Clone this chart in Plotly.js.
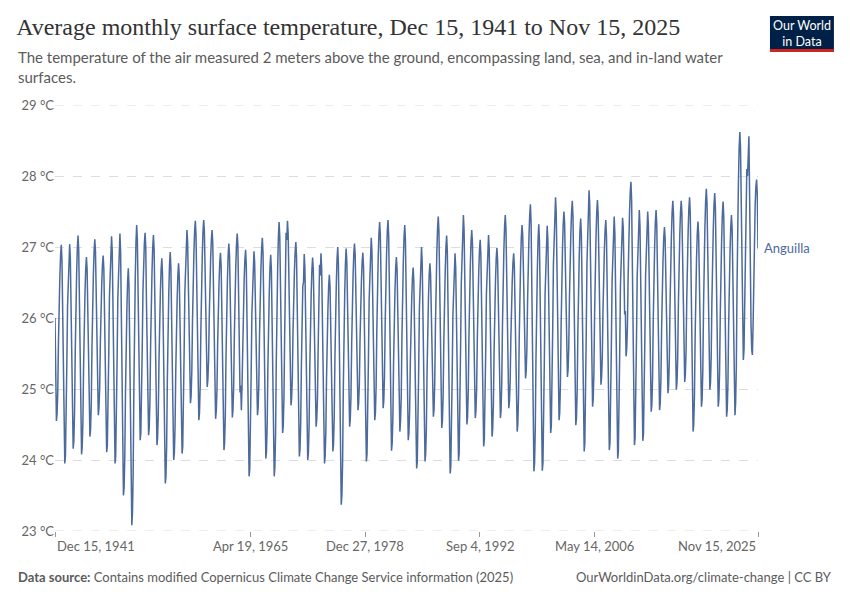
<!DOCTYPE html>
<html>
<head>
<meta charset="utf-8">
<script src="https://cdn.plot.ly/plotly-3.0.1.min.js"></script>
<style>html,body{margin:0;padding:0;background:#fff;}#chart{width:850px;height:600px;}</style>
</head>
<body>
<div id="chart"></div>
<script>
// First month of the series (values are mid-month)
var firstYear = 1941, firstMonth = 12;
// Monthly average surface temperature in Anguilla, °C (Dec 1941 .. Nov 2025)
var monthlyTempC = [
26.0,
25.2,24.55,24.65,24.97,25.67,26.34,26.58,26.88,27.03,26.81,25.98,25.0,
24.32,23.95,24.05,24.48,25.34,26.17,26.48,26.85,27.04,26.84,26.06,25.14,
24.51,24.16,24.26,24.67,25.51,26.32,26.62,26.98,27.16,26.94,26.11,25.13,
24.45,24.08,24.18,24.55,25.33,26.08,26.36,26.69,26.86,26.68,26.0,25.19,
24.63,24.33,24.43,24.8,25.58,26.33,26.61,26.94,27.11,26.94,26.27,25.47,
24.93,24.63,24.73,25.01,25.64,26.25,26.48,26.75,26.88,26.69,25.94,25.05,
24.44,24.11,24.21,24.63,25.48,26.3,26.6,26.97,27.15,26.93,26.06,25.04,
24.33,23.95,24.05,24.5,25.41,26.28,26.61,26.99,27.19,26.93,25.94,24.75,
23.94,23.5,23.6,24.04,24.94,25.8,26.12,26.51,26.7,26.45,25.47,24.31,
23.51,23.08,23.25,23.8,24.98,26.13,26.55,27.06,27.31,27.1,26.28,25.31,
24.64,24.28,24.38,24.78,25.59,26.38,26.9,27.05,27.2,27.0,26.23,25.32,
24.69,24.35,24.45,24.83,25.62,26.38,26.66,27.0,27.17,26.96,26.16,25.22,
24.57,24.21,24.31,24.66,25.39,26.1,26.37,26.68,26.84,26.62,25.76,24.75,
24.05,23.67,23.77,24.22,25.14,26.02,26.34,26.73,26.93,26.73,25.93,25.0,
24.35,24.0,24.1,24.47,25.25,25.99,26.27,26.6,26.77,26.58,25.86,25.0,
24.41,24.09,24.19,24.63,25.51,26.36,26.67,27.05,27.24,27.07,26.41,25.63,
25.09,24.8,24.9,25.24,25.96,26.65,26.91,27.22,27.37,27.17,26.41,25.52,
24.9,24.56,24.66,25.04,25.83,26.59,26.87,27.21,27.38,27.22,26.58,25.83,
25.31,25.03,25.13,25.41,26.02,26.62,26.84,27.11,27.24,27.05,26.34,25.48,
24.9,24.58,24.68,24.98,25.63,26.26,26.5,26.78,26.92,26.73,25.97,25.09,
24.47,24.14,24.24,24.63,25.45,26.24,26.53,26.88,27.05,26.88,26.22,25.43,
24.89,24.6,24.7,25.04,25.77,26.46,26.72,27.03,27.19,27.02,26.34,25.55,
24.95,25.05,24.7,25.08,25.72,26.33,26.55,26.82,26.96,26.74,25.88,24.85,
24.15,23.77,23.87,24.31,25.2,26.05,26.37,26.75,26.94,26.78,26.15,25.42,
24.91,24.63,24.73,25.06,25.76,26.43,26.68,26.98,27.13,26.91,26.07,25.08,
24.39,24.02,24.12,24.51,25.31,26.09,26.37,26.72,26.89,26.67,25.83,24.83,
24.14,23.77,23.9,24.38,25.38,26.35,26.71,27.14,27.35,27.14,26.34,25.39,
24.74,24.38,24.48,24.89,25.73,26.53,27.2,27.1,27.37,27.19,26.49,25.65,
25.08,24.77,24.87,25.16,25.81,26.43,26.66,26.93,27.07,26.86,26.04,25.08,
24.41,24.05,24.15,24.53,25.33,26.1,26.45,26.5,26.9,26.7,25.91,24.99,
24.35,24.0,24.1,24.48,25.28,26.05,26.34,26.68,26.85,26.68,26.04,25.28,
24.76,24.47,24.57,24.88,25.57,26.23,26.75,26.6,26.91,26.7,25.9,24.96,
24.31,23.95,24.05,24.4,25.15,25.87,26.13,26.45,26.61,26.44,25.76,24.97,
24.42,24.12,24.22,24.61,25.42,26.19,26.48,26.83,27.0,26.75,25.77,24.6,
23.81,23.37,23.5,23.98,25.0,25.97,26.33,26.76,26.98,26.8,26.13,25.32,
24.77,24.47,24.57,24.91,25.63,26.33,26.59,26.9,27.05,26.89,26.25,25.5,
24.98,24.7,24.8,25.08,25.7,26.3,26.52,26.79,26.92,26.71,25.92,24.98,
24.33,23.98,24.08,24.52,25.4,26.25,26.56,26.94,27.13,26.95,26.26,25.43,
24.87,24.56,24.66,25.03,25.82,26.57,26.85,27.18,27.35,27.17,26.46,25.62,
25.2,24.73,24.83,25.18,25.92,26.64,26.9,27.22,27.38,27.15,26.28,25.23,
24.52,24.13,24.23,24.59,25.36,26.1,26.37,26.7,26.86,26.69,26.02,25.24,
24.7,24.4,24.55,24.89,25.71,26.5,26.79,27.14,27.31,27.1,26.28,25.31,
24.64,24.28,24.38,24.69,25.37,26.03,26.27,26.56,26.71,26.51,25.75,24.84,
24.22,23.88,23.98,24.41,25.28,26.13,26.44,26.81,27.0,26.79,25.97,25.01,
24.34,23.98,24.08,24.45,25.24,25.99,26.27,26.6,26.77,26.62,26.04,25.34,
24.87,24.61,24.71,25.09,25.88,26.64,26.92,27.26,27.43,27.22,26.42,25.46,
24.81,24.45,24.55,24.91,25.67,26.4,26.67,27.0,27.16,26.93,26.02,24.95,
24.21,23.81,23.91,24.34,25.21,26.04,26.35,26.72,26.91,26.71,25.92,24.98,
24.34,23.99,24.1,24.58,25.55,26.48,26.83,27.24,27.45,27.24,26.45,25.5,
24.85,24.5,24.6,24.97,25.73,26.47,26.75,27.08,27.24,27.05,26.34,25.49,
24.91,24.59,24.69,25.02,25.72,26.4,26.65,26.95,27.1,26.9,26.11,25.18,
24.54,24.19,24.29,24.7,25.53,26.34,26.63,26.99,27.17,26.97,26.2,25.26,
24.67,24.33,24.43,24.78,25.53,26.25,26.51,26.83,26.99,26.82,26.17,25.41,
24.88,24.59,24.69,25.08,25.88,26.65,26.94,27.28,27.45,27.26,26.53,25.65,
25.06,24.73,24.83,25.1,25.71,26.3,26.52,26.78,26.91,26.73,26.06,25.25,
24.7,24.4,24.5,24.89,25.71,26.5,26.79,27.14,27.31,27.16,26.58,25.88,
25.41,25.15,25.25,25.57,26.25,26.91,27.16,27.45,27.6,27.34,26.32,25.12,
24.29,23.84,23.95,24.43,25.41,26.35,26.69,27.11,27.32,27.08,26.14,25.03,
24.27,23.85,23.96,24.44,25.4,26.33,26.68,27.09,27.3,27.1,26.31,25.37,
24.73,24.38,24.48,24.94,25.87,26.77,27.1,27.5,27.7,27.48,26.63,25.63,
24.94,24.56,24.66,25.06,25.88,26.68,26.97,27.32,27.5,27.34,26.71,25.96,
25.45,25.17,25.27,25.59,26.29,26.96,27.2,27.5,27.65,27.43,26.58,25.56,
24.87,24.49,24.59,24.98,25.8,26.59,26.88,27.23,27.4,27.17,26.28,25.24,
24.51,24.12,24.24,24.75,25.78,26.77,27.14,27.58,27.8,27.59,26.76,25.79,
25.12,24.75,24.85,25.24,26.06,26.85,27.14,27.49,27.66,27.48,26.78,25.94,
25.37,25.06,25.16,25.45,26.1,26.73,26.96,27.24,27.38,27.15,26.28,25.24,
24.53,24.14,24.24,24.7,25.62,26.51,26.84,27.23,27.43,27.19,26.27,25.18,
24.43,24.02,24.12,24.6,25.55,26.46,26.8,27.21,27.41,27.27,26.75,26.05,
26.1,25.46,25.56,25.88,26.57,27.23,27.48,27.77,27.92,27.66,26.66,25.47,
24.66,24.21,24.31,24.77,25.7,26.59,26.92,27.32,27.52,27.29,26.42,25.37,
24.66,24.27,24.37,24.82,25.72,26.6,26.92,27.31,27.5,27.3,26.54,25.64,
25.02,24.68,24.78,25.16,25.96,26.72,27.01,27.35,27.52,27.32,26.56,25.66,
25.04,24.7,24.8,25.14,25.86,26.56,26.82,27.13,27.28,27.12,26.48,25.74,
25.22,24.94,25.04,25.4,26.16,26.89,27.16,27.49,27.65,27.46,26.75,25.89,
25.31,24.99,25.09,25.44,26.19,26.91,27.17,27.49,27.65,27.47,26.78,25.97,
25.41,25.1,25.2,25.54,26.27,26.97,27.23,27.54,27.7,27.47,26.58,25.52,
24.8,24.4,24.5,24.9,25.73,26.53,26.83,27.18,27.36,27.18,26.47,25.64,
25.06,24.75,24.85,25.27,26.13,26.96,27.27,27.64,27.82,27.62,26.86,25.95,
25.33,24.99,25.09,25.46,26.24,26.98,27.26,27.59,27.76,27.55,26.74,25.77,
25.11,24.75,24.85,25.24,26.05,26.83,27.12,27.47,27.64,27.43,26.61,25.64,
24.97,24.61,24.71,25.09,25.89,26.65,26.94,27.28,27.45,27.25,26.49,25.59,
24.97,24.63,24.8,25.31,26.43,27.5,27.9,28.38,28.62,28.4,27.53,26.5,
25.8,25.41,25.55,26.1,27.0,27.7,28.1,28.0,28.35,28.56,27.7,26.6,
25.9,25.55,25.48,25.9,26.6,27.3,27.6,27.85,27.95,27.75,26.98
];
var tickDates = ['1941-12-15','1965-04-19','1978-12-27','1992-09-04','2006-05-14','2025-11-15'];
var tickLabels = ['Dec 15, 1941','Apr 19, 1965','Dec 27, 1978','Sep 4, 1992','May 14, 2006','Nov 15, 2025'];
var yTicks = [23,24,25,26,27,28,29];
var yTickLabels = ['23 °C','24 °C','25 °C','26 °C','27 °C','28 °C','29 °C'];
var entityName = 'Anguilla';

function pad(n){return (n<10?'0':'')+n;}
var dates = [];
var y = firstYear, m = firstMonth;
for (var i = 0; i < monthlyTempC.length; i++) {
  dates.push(y + '-' + pad(m) + '-15');
  m++; if (m > 12) { m = 1; y++; }
}
var lastVal = monthlyTempC[monthlyTempC.length-1];

var lineColor = '#4c6a9c';
var trace = {
  x: dates, y: monthlyTempC, type: 'scatter', mode: 'lines',
  line: {color: lineColor, width: 1.5}, hoverinfo: 'x+y', showlegend: false
};

var annotations = [];
for (var k = 0; k < tickDates.length; k++) {
  annotations.push({
    x: tickDates[k], xref: 'x', y: -0.035, yref: 'paper',
    text: tickLabels[k], showarrow: false,
    xanchor: k === 0 ? 'left' : (k === tickDates.length-1 ? 'right' : 'center'),
    yanchor: 'middle', font: {family: 'Lato', size: 13, color: '#666'}
  });
}
annotations.push({
  xref: 'paper', yref: 'paper', x: -0.0555, y: 1.138, xanchor: 'left', yanchor: 'top', align: 'left',
  showarrow: false,
  text: 'The temperature of the air measured 2 meters above the ground, encompassing land, sea, and in-land water<br>surfaces.',
  font: {family: 'Lato', size: 15, color: '#5b5b5b'}
});
annotations.push({
  xref: 'paper', yref: 'y', x: 1.005, y: lastVal, xanchor: 'left', yanchor: 'middle',
  showarrow: false, text: entityName, font: {family: 'Lato', size: 13, color: lineColor}
});
annotations.push({
  xref: 'paper', yref: 'paper', x: -0.0555, y: -0.108, xanchor: 'left', yanchor: 'middle',
  showarrow: false,
  text: '<b>Data source:</b> Contains modified Copernicus Climate Change Service information (2025)',
  font: {family: 'Lato', size: 13, color: '#5b5b5b'}
});
annotations.push({
  xref: 'paper', yref: 'paper', x: 1.108, y: -0.108, xanchor: 'right', yanchor: 'middle',
  showarrow: false, text: 'OurWorldinData.org/climate-change | CC BY',
  font: {family: 'Lato', size: 13, color: '#5b5b5b'}
});
annotations.push({
  xref: 'paper', yref: 'paper', x: 1.0626, y: 1.168, xanchor: 'center', yanchor: 'middle',
  showarrow: false, text: 'Our World<br>in Data', align: 'center',
  font: {family: 'Lato', size: 12.5, color: '#ffffff'}
});

var shapes = [
  {type: 'rect', xref: 'paper', yref: 'paper', x0: 1.017, x1: 1.108, y0: 1.1244, y1: 1.2089,
   fillcolor: '#002147', line: {width: 0}, layer: 'above'},
  {type: 'rect', xref: 'paper', yref: 'paper', x0: 1.017, x1: 1.108, y0: 1.1244, y1: 1.1315,
   fillcolor: '#ce261e', line: {width: 0}, layer: 'above'},
  {type: 'line', xref: 'paper', yref: 'y', x0: 0, x1: 1, y0: yTicks[0], y1: yTicks[0],
   line: {color: '#dddddd', width: 1, dash: 'dash'}, layer: 'below'},
  {type: 'line', xref: 'paper', yref: 'y', x0: 0, x1: 1, y0: yTicks[yTicks.length-1], y1: yTicks[yTicks.length-1],
   line: {color: '#dddddd', width: 1, dash: 'dash'}, layer: 'below'}
];

var layout = {
  width: 850, height: 600,
  margin: {l: 55, r: 92, t: 105, b: 69},
  paper_bgcolor: '#fff', plot_bgcolor: '#fff',
  title: {
    text: 'Average monthly surface temperature, Dec 15, 1941 to Nov 15, 2025',
    xref: 'container', yref: 'container', x: 0.019, y: 0.955, xanchor: 'left', yanchor: 'middle',
    font: {family: 'Liberation Serif, DejaVu Serif, serif', size: 24, color: '#333'}
  },
  xaxis: {
    type: 'date', range: ['1941-12-15', '2025-11-15'],
    showgrid: false, zeroline: false, showline: false,
    tickmode: 'array', tickvals: tickDates, showticklabels: false,
    ticks: 'outside', ticklen: 5, tickcolor: '#999', tickwidth: 1
  },
  yaxis: {
    range: [23, 29], tickmode: 'array', tickvals: yTicks, ticktext: yTickLabels,
    showgrid: true, gridcolor: '#dddddd', griddash: 'dash', gridwidth: 1,
    zeroline: false, showline: false, ticks: '',
    tickfont: {family: 'Lato', size: 13, color: '#666'}
  },
  annotations: annotations,
  shapes: shapes,
  hovermode: 'closest'
};

Plotly.newPlot('chart', [trace], layout, {displayModeBar: false, staticPlot: true});
</script>
</body>
</html>
